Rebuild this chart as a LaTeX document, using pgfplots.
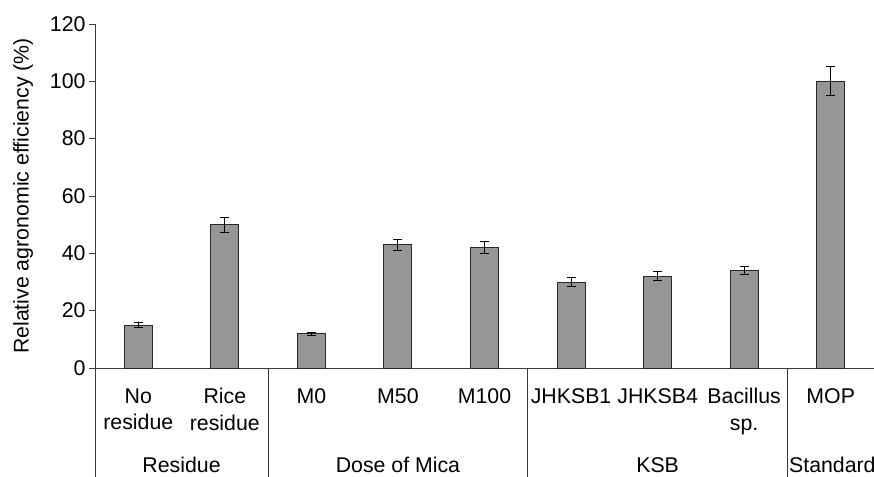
\documentclass[border=0pt]{standalone}
\usepackage{fontspec}
\setmainfont{Liberation Sans}
\usepackage{pgfplots}
\pgfplotsset{compat=1.18}
\definecolor{barfill}{RGB}{150,150,153}
\definecolor{baredge}{RGB}{40,40,40}
\definecolor{axcol}{RGB}{60,60,60}
\newcommand{\ff}{\fontsize{21.3}{26.5}\selectfont}
\begin{document}
\begin{tikzpicture}
\begin{axis}[
  at={(0,0)}, anchor=south west,
  scale only axis, width=779pt, height=344pt,
  xmin=-0.5, xmax=8.5, ymin=0, ymax=120,
  axis lines*=left,
  axis line style={axcol, line width=0.9pt},
  ytick={0,20,...,120},
  tick align=outside,
  major tick length=6pt,
  ytick style={axcol, line width=0.9pt},
  xtick={0,...,8},
  xtick style={draw=none},
  xticklabels={No\\residue, Rice\\residue, M0, M50, M100, JHKSB1, JHKSB4, Bacillus\\sp., MOP},
  xticklabel style={align=center, font=\ff, anchor=north, yshift=-11pt},
  yticklabel style={font=\ff},
  /pgf/number format/assume math mode=true,
  ylabel={Relative agronomic efficiency (\%)},
  ylabel style={font=\ff, at={(axis description cs:-0.0924,0.5)}, anchor=center},
  ybar, bar width=28pt,
  clip=false,
]
\addplot[ybar, fill=barfill, draw=baredge, line width=0.9pt,
  error bars/.cd, y dir=both, y explicit,
  error bar style={black, line width=1pt},
  error mark options={rotate=90, mark size=4.5pt, line width=1pt, black}]
coordinates {
  (0,15) +- (0,0.7)
  (1,50) +- (0,2.6)
  (2,12) +- (0,0.5)
  (3,43) +- (0,2)
  (4,42) +- (0,2)
  (5,30) +- (0,1.5)
  (6,32) +- (0,1.5)
  (7,34) +- (0,1.5)
  (8,100) +- (0,5)
};
\draw[axcol, line width=0.9pt] (axis cs:-0.5,0) -- ++(0pt,-110pt);
\draw[axcol, line width=0.9pt] (axis cs:1.5,0) -- ++(0pt,-110pt);
\draw[axcol, line width=0.9pt] (axis cs:4.5,0) -- ++(0pt,-110pt);
\draw[axcol, line width=0.9pt] (axis cs:7.5,0) -- ++(0pt,-110pt);
\node[font=\ff, anchor=base] at (axis cs:0.5,0) [yshift=-104pt] {Residue};
\node[font=\ff, anchor=base] at (axis cs:3,0) [yshift=-104pt] {Dose of Mica};
\node[font=\ff, anchor=base] at (axis cs:6,0) [yshift=-104pt] {KSB};
\node[font=\ff, anchor=base west, inner sep=0pt] at (axis cs:7.5,0) [yshift=-104pt, xshift=1.5pt] {Standard};
\end{axis}
\pgfresetboundingbox
\path (-95pt,-108pt) rectangle (779pt,368pt);
\end{tikzpicture}
\end{document}
